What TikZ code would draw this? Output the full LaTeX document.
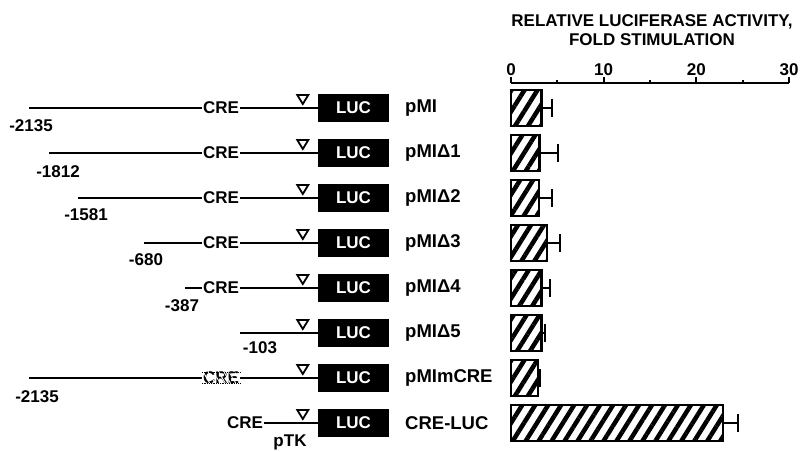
\documentclass[tikz,border=0pt]{standalone}
\usepackage{fontspec}
\setmainfont{Liberation Sans}
\usetikzlibrary{positioning,patterns.meta}

\tikzset{
	lbl/.style={font=\fontsize{17}{19}\selectfont\bfseries, inner sep=0pt},
	construct/.style={font=\fontsize{18.5}{20}\selectfont\bfseries, inner sep=0pt, anchor=west},
	site/.style={lbl, inner sep=1pt},
	gene/.style={line width=2pt},
	luc/.style={fill=black, text=white, minimum width=71pt, minimum height=28pt, inner sep=0pt, font=\fontsize{17}{19}\selectfont\bfseries},
	startmark/.pic={\draw[line width=1.8pt, fill=white] (-5.5,-4.5) -- (5.5,-4.5) -- (0,4.5) -- cycle;},
	bar/.style={draw, line width=2.5pt, pattern={Lines[angle=58,distance=11pt,line width=4.5pt]}},
	err/.style={line width=2pt},
}

\begin{document}
\begin{tikzpicture}[x=1pt,y=-1pt]
		\useasboundingbox (0,0) rectangle (804,452);
		%\draw[help lines] (0,0) grid[step=50] (804,452);

		\coordinate (s1) at (29,108);
		\node[site] (c1) at (221,108) {CRE};
		\node[luc] (l1) at (353.5,108) {LUC};
		\node[construct] (n1) at (405,108) {pMI};
		\node[lbl] (d1) at (31,126) {-2135};
		\draw[gene] (s1) -- (c1) (c1) -- (l1);
		\pic at ([shift={(-15,-8.5)}]l1.west) {startmark};

		\coordinate (s2) at (49,153);
		\node[site] (c2) at (221,153) {CRE};
		\node[luc] (l2) at (353.5,153) {LUC};
		\node[construct] (n2) at (405,153) {pMIΔ1};
		\node[lbl] (d2) at (58,172) {-1812};
		\draw[gene] (s2) -- (c2) (c2) -- (l2);
		\pic at ([shift={(-15,-8.5)}]l2.west) {startmark};

		\coordinate (s3) at (78,198);
		\node[site] (c3) at (221,198) {CRE};
		\node[luc] (l3) at (353.5,198) {LUC};
		\node[construct] (n3) at (405,198) {pMIΔ2};
		\node[lbl] (d3) at (86,215) {-1581};
		\draw[gene] (s3) -- (c3) (c3) -- (l3);
		\pic at ([shift={(-15,-8.5)}]l3.west) {startmark};

		\coordinate (s4) at (144,243);
		\node[site] (c4) at (221,243) {CRE};
		\node[luc] (l4) at (353.5,243) {LUC};
		\node[construct] (n4) at (405,243) {pMIΔ3};
		\node[lbl] (d4) at (146,260) {-680};
		\draw[gene] (s4) -- (c4) (c4) -- (l4);
		\pic at ([shift={(-15,-8.5)}]l4.west) {startmark};

		\coordinate (s5) at (185,288);
		\node[site] (c5) at (221,288) {CRE};
		\node[luc] (l5) at (353.5,288) {LUC};
		\node[construct] (n5) at (405,288) {pMIΔ4};
		\node[lbl] (d5) at (182,306) {-387};
		\draw[gene] (s5) -- (c5) (c5) -- (l5);
		\pic at ([shift={(-15,-8.5)}]l5.west) {startmark};

		\coordinate (s6) at (240,333);
		\node[luc] (l6) at (353.5,333) {LUC};
		\node[construct] (n6) at (405,333) {pMIΔ5};
		\node[lbl] (d6) at (260,348) {-103};
		\draw[gene] (s6) -- (l6);
		\pic at ([shift={(-15,-8.5)}]l6.west) {startmark};

		\coordinate (s7) at (29,378);
		\node[site] (c7) at (221,378) {CRE};
		\node[luc] (l7) at (353.5,378) {LUC};
		\node[construct] (n7) at (405,378) {pMImCRE};
		\node[lbl] (d7) at (37,397) {-2135};
		\draw[gene] (s7) -- (c7) (c7) -- (l7);
		\fill[pattern={Lines[angle=-60,distance=4.5pt,line width=0.9pt]}, pattern color=white] (c7.south west) rectangle (c7.north east);
		\draw[line width=0.8pt, densely dotted] ([yshift=-2pt]c7.north west) -- ([yshift=-2pt]c7.north east) ([yshift=2pt]c7.south west) -- ([yshift=2pt]c7.south east);
		\pic at ([shift={(-15,-8.5)}]l7.west) {startmark};

		\node[site] (c8) at (245,423) {CRE};
		\node[luc] (l8) at (353.5,423) {LUC};
		\node[construct] (n8) at (405,423) {CRE-LUC};
		\node[lbl] (p8) at (290,442) {pTK};
		\draw[gene] (c8) -- (l8);
		\pic at ([shift={(-15,-8.5)}]l8.west) {startmark};

		\node[lbl, align=center] (title) at (652,30) {RELATIVE LUCIFERASE ACTIVITY,\\FOLD STIMULATION};

		\begin{scope}[shift={(511,0)}, x=9.267pt]
			\draw[line width=2pt] (0,83) -- (30,83);
			\foreach \t in {0,10,20,30} {
				\draw[line width=2pt] (\t,83) -- (\t,77);
				\node[lbl] at (\t,70) {\t};
			}
			\foreach \t in {5,15,25}
				\draw[line width=2pt] (\t,83) -- (\t,80);

			\draw[bar] (0,90) rectangle (3.3,126);
			\draw[err] (3.3,108) -- (4.4,108) ++(0,-9) -- ++(0,18);
			\draw[bar] (0,135) rectangle (3.1,171);
			\draw[err] (3.1,153) -- (5.1,153) ++(0,-9) -- ++(0,18);
			\draw[bar] (0,180) rectangle (3.0,216);
			\draw[err] (3.0,198) -- (4.4,198) ++(0,-9) -- ++(0,18);
			\draw[bar] (0,225) rectangle (3.9,261);
			\draw[err] (3.9,243) -- (5.3,243) ++(0,-9) -- ++(0,18);
			\draw[bar] (0,270) rectangle (3.3,306);
			\draw[err] (3.3,288) -- (4.2,288) ++(0,-9) -- ++(0,18);
			\draw[bar] (0,315) rectangle (3.3,351);
			\draw[err] (3.3,333) -- (3.7,333) ++(0,-9) -- ++(0,18);
			\draw[bar] (0,360) rectangle (2.9,396);
			\draw[err] (2.9,378) -- (3.1,378) ++(0,-9) -- ++(0,18);
			\draw[bar] (0,405) rectangle (22.9,441);
			\draw[err] (22.9,423) -- (24.5,423) ++(0,-9) -- ++(0,18);
		\end{scope}
	\end{tikzpicture}
\end{document}
